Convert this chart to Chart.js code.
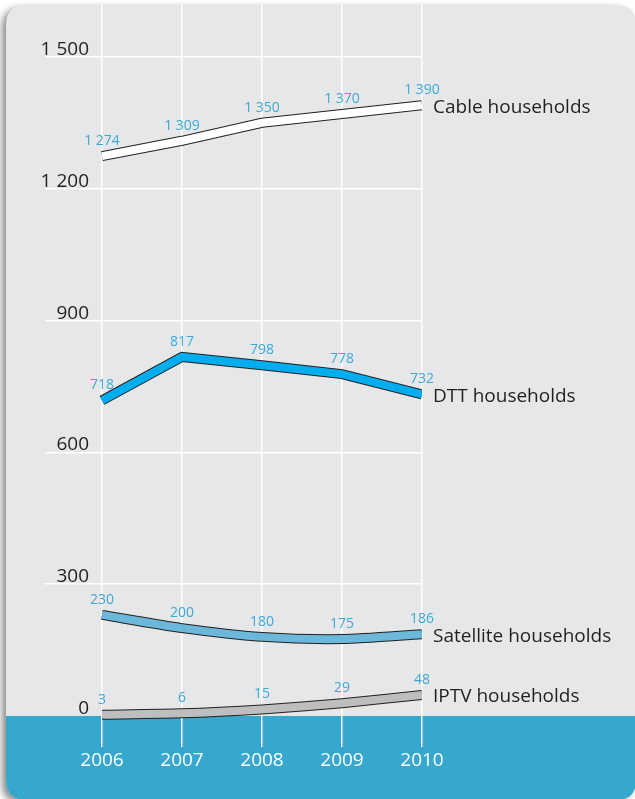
<!DOCTYPE html>
<html>
<head>
<meta charset="utf-8">
<script src="https://cdn.jsdelivr.net/npm/chart.js@4"></script>
<style>
  html, body { margin: 0; padding: 0; background: #fff; }
  canvas { display: block; }
</style>
</head>
<body>
<canvas id="tvChart" width="635" height="799"></canvas>
<script>
// Data
const years = [2006, 2007, 2008, 2009, 2010];
const cable = [1274, 1309, 1350, 1370, 1390];
const dtt = [718, 817, 798, 778, 732];
const satellite = [230, 200, 180, 175, 186];
const iptv = [3, 6, 15, 29, 48];
const yTicks = [0, 300, 600, 900, 1200, 1500];

const seriesNames = ["Cable households", "DTT households", "Satellite households", "IPTV households"];
const seriesValues = [cable, dtt, satellite, iptv];
const seriesColors = ["#ffffff", "#00aeef", "#6cb8db", "#bcbec0"];
const seriesTension = [0, 0, 0.25, 0.2];

const FONT = "'Open Sans', 'Noto Sans', sans-serif";
const dark = "#231f20";
const labelBlue = "#3ea9d6";
const panelGrey = "#e6e7e8";
const bandBlue = "#36a7cd";

// thousands with a space, like "1 500"
const fmt = v => String(v).replace(/\B(?=(\d{3})+(?!\d))/g, " ");

const toPoints = values => values.map((v, i) => ({x: years[i], y: v}));

// each series is a thick coloured ribbon over a slightly wider dark one
let datasets = [];
seriesValues.forEach((values, i) => {
    datasets.push({
        data: toPoints(values),
        borderColor: seriesColors[i],
        borderWidth: 8,
        tension: seriesTension[i],
        borderJoinStyle: 'miter',
        pointRadius: 0,
        order: 0,
        seriesIndex: i
    });
    datasets.push({
        data: toPoints(values),
        borderColor: dark,
        borderWidth: 10,
        tension: seriesTension[i],
        borderJoinStyle: 'miter',
        pointRadius: 0,
        order: 1
    });
});

const roundRect = function(ctx, x, y, w, h, r) {
    ctx.beginPath();
    ctx.moveTo(x + r, y);
    ctx.lineTo(x + w - r, y);
    ctx.quadraticCurveTo(x + w, y, x + w, y + r);
    ctx.lineTo(x + w, y + h - r);
    ctx.quadraticCurveTo(x + w, y + h, x + w - r, y + h);
    ctx.lineTo(x + r, y + h);
    ctx.quadraticCurveTo(x, y + h, x, y + h - r);
    ctx.lineTo(x, y + r);
    ctx.quadraticCurveTo(x, y, x + r, y);
    ctx.closePath();
}

// Panel, shadow and blue band behind the chart
const backgroundPlugin = {
    id: 'panel',
    beforeDraw(chart) {
        const ctx = chart.ctx;
        const yScale = chart.scales.y;
        const zeroY = yScale.getPixelForValue(0);
        ctx.save();
        ctx.fillStyle = "#ffffff";
        ctx.fillRect(0, 0, chart.width, chart.height);

        ctx.shadowColor = "rgba(0, 0, 0, 0.45)";
        ctx.shadowBlur = 7;
        ctx.shadowOffsetX = -4;
        ctx.shadowOffsetY = 3;
        roundRect(ctx, 6, 5, 630, 795, 20);
        ctx.fillStyle = panelGrey;
        ctx.fill();
        ctx.restore();

        ctx.save();
        roundRect(ctx, 6, 5, 630, 795, 20);
        ctx.clip();
        ctx.fillStyle = bandBlue;
        ctx.fillRect(0, zeroY, chart.width, chart.height - zeroY);
        ctx.restore();
    }
};

// Y labels, value labels and series names
const labelsPlugin = {
    id: 'labels',
    afterDatasetsDraw(chart) {
        const ctx = chart.ctx;
        const yScale = chart.scales.y;
        ctx.save();

        // y tick labels sit on top of their gridline
        ctx.font = "19px " + FONT;
        ctx.fillStyle = dark;
        ctx.textAlign = 'right';
        ctx.textBaseline = 'alphabetic';
        yTicks.forEach(v => {
            ctx.fillText(fmt(v), 89, yScale.getPixelForValue(v) - 2);
        });

        chart.data.datasets.forEach((ds, di) => {
            if (ds.seriesIndex === undefined) return;
            const meta = chart.getDatasetMeta(di);
            const values = seriesValues[ds.seriesIndex];

            ctx.font = "14px " + FONT;
            ctx.fillStyle = labelBlue;
            ctx.textAlign = 'center';
            ctx.textBaseline = 'middle';
            meta.data.forEach((pt, i) => {
                ctx.fillText(fmt(values[i]), pt.x, pt.y - 15);
            });

            const last = meta.data[meta.data.length - 1];
            ctx.font = "19px " + FONT;
            ctx.fillStyle = dark;
            ctx.textAlign = 'left';
            ctx.fillText(seriesNames[ds.seriesIndex], last.x + 11, last.y + 2);
        });
        ctx.restore();
    }
};

new Chart(document.getElementById('tvChart'), {
    type: 'line',
    data: {
        datasets: datasets
    },
    options: {
        responsive: false,
        animation: false,
        layout: {
            padding: {left: 45, right: 213, top: 5, bottom: 0}
        },
        scales: {
            x: {
                type: 'linear',
                min: 2005.2875,
                max: 2010,
                afterBuildTicks: scale => {
                    scale.ticks = years.map(v => ({value: v}));
                },
                afterFit: scale => {
                    scale.height = 52;
                },
                grid: {
                    color: "#ffffff",
                    lineWidth: 1.5,
                    drawTicks: false
                },
                border: {display: false},
                ticks: {
                    color: "#ffffff",
                    font: {family: FONT, size: 19},
                    padding: 2,
                    callback: v => String(v)
                }
            },
            y: {
                min: -70.6,
                max: 1618,
                afterBuildTicks: scale => {
                    scale.ticks = yTicks.map(v => ({value: v}));
                },
                afterFit: scale => {
                    scale.width = 0;
                },
                grid: {
                    color: ctx => ctx.tick && ctx.tick.value === 0 ? 'rgba(0,0,0,0)' : "#ffffff",
                    lineWidth: 1.5,
                    drawTicks: false
                },
                border: {display: false},
                ticks: {display: false}
            }
        },
        plugins: {
            legend: false,
            tooltip: {enabled: false}
        }
    },
    plugins: [backgroundPlugin, labelsPlugin]
});
</script>
</body>
</html>
